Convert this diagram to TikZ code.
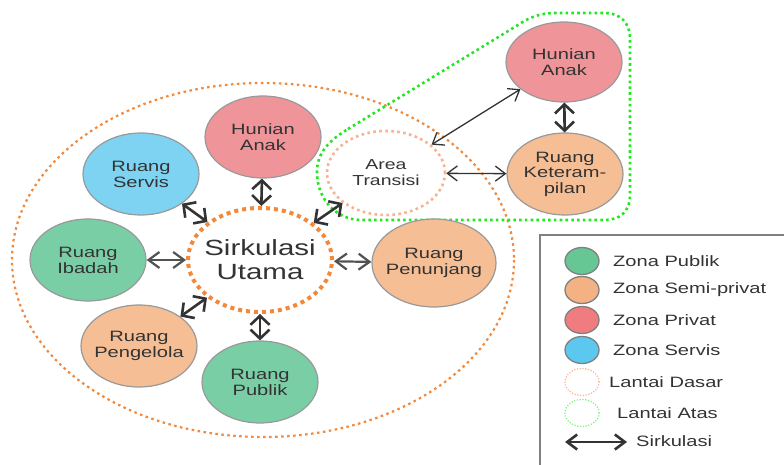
\documentclass[tikz,border=0pt]{standalone}
\usepackage{fontspec}
\setmainfont{Liberation Sans}[FakeStretch=1.34]
\usetikzlibrary{shapes.geometric,arrows.meta}
\definecolor{cpub}{HTML}{7ACEA5}
\definecolor{csemi}{HTML}{F5BE94}
\definecolor{cpriv}{HTML}{EF9599}
\definecolor{cserv}{HTML}{7DD3F1}
\definecolor{lpub}{HTML}{66C795}
\definecolor{lsemi}{HTML}{F4B183}
\definecolor{lpriv}{HTML}{F07C80}
\definecolor{lserv}{HTML}{5CC8F0}
\definecolor{corange}{HTML}{F2883A}
\definecolor{csalmon}{HTML}{F8B290}
\definecolor{cgreen}{HTML}{1EE81E}
\definecolor{ctext}{HTML}{333333}
\definecolor{carrow}{HTML}{333333}
\tikzset{
  room/.style={ellipse, draw=gray!80, line width=1.2pt, minimum width=116pt, minimum height=82pt, inner xsep=-20pt, inner ysep=0pt, align=center, text=ctext, font=\fontsize{15}{16}\selectfont},
  biga/.style={draw=carrow, line width=2.6pt, {Straight Barb[length=9pt,width=19pt]}-{Straight Barb[length=9pt,width=19pt]}},
  meda/.style={draw=carrow!85, line width=2.2pt, {Straight Barb[length=11pt,width=16pt]}-{Straight Barb[length=11pt,width=16pt]}},
  thina/.style={draw=carrow, line width=1.3pt, {Straight Barb[length=10pt,width=15pt]}-{Straight Barb[length=10pt,width=15pt]}},
  legc/.style={ellipse, draw=gray, line width=1.3pt, minimum width=34pt, minimum height=27pt, inner sep=0pt},
  legt/.style={anchor=west, text=ctext, font=\fontsize{15}{17}\selectfont, inner sep=0pt},
}
\begin{document}
\begin{tikzpicture}[x=1pt,y=-1pt]
\useasboundingbox (0,0) rectangle (784,465);
% outer ground floor ellipse
\draw[corange, line width=2.2pt, dash pattern=on 2.5pt off 3.5pt] (263,260) ellipse [x radius=251, y radius=177];
% upper floor outline
\draw[cgreen, line width=2.6pt, dash pattern=on 2.6pt off 3.2pt]
  (348,129) -- (518,25) .. controls (530,17) and (540,13) .. (556,13) -- (605,13)
  .. controls (620,13) and (630,23) .. (630,38) -- (630,196)
  .. controls (630,211) and (620,220) .. (605,220) -- (362,220)
  .. controls (335,220) and (317,198) .. (317,172)
  .. controls (317,152) and (330,140) .. (348,129) -- cycle;
% nodes
\node[ellipse, draw=corange, line width=4pt, dash pattern=on 4pt off 4pt, minimum width=144pt, minimum height=104pt, inner xsep=-30pt, inner ysep=0pt, align=center, text=ctext, font=\fontsize{22}{24}\selectfont] (sirk) at (260,260) {Sirkulasi\\Utama};
\node[ellipse, draw=csalmon, line width=2.6pt, dash pattern=on 2.6pt off 3.4pt, minimum width=118pt, minimum height=84pt, inner sep=0pt, align=center, text=ctext, font=\fontsize{14.5}{16}\selectfont] (trans) at (386,173) {Area\\Transisi};
\node[room, fill=cpriv] (hunl) at (263,137) {Hunian\\Anak};
\node[room, fill=cserv] (servis) at (141,174) {Ruang\\Servis};
\node[room, fill=cpub] (ibadah) at (88,260) {Ruang\\Ibadah};
\node[room, fill=csemi] (pengelola) at (139,346) {Ruang\\Pengelola};
\node[room, fill=cpub] (publik) at (260,382) {Ruang\\Publik};
\node[room, fill=csemi, minimum width=124pt, minimum height=88pt] (penunjang) at (434,263) {Ruang\\Penunjang};
\node[room, fill=cpriv, minimum height=80pt] (hunr) at (564,62) {Hunian\\Anak};
\node[room, fill=csemi, font=\fontsize{15}{15.5}\selectfont] (ket) at (565,174) {Ruang\\Keteram-\\pilan};
% connectors
\draw[biga] (hunl) -- (sirk);
\draw[biga] (servis) -- (sirk);
\draw[biga] (sirk) -- (trans);
\draw[meda] (ibadah) -- (sirk);
\draw[meda] (sirk) -- (penunjang);
\draw[biga] (pengelola) -- (sirk);
\draw[biga] (sirk) -- (publik);
\draw[thina] (trans) -- (hunr);
\draw[thina] (trans) -- (ket);
\draw[biga] (hunr) -- (ket);
% legend
\draw[gray, line width=1.5pt] (540,480) -- (540,235) -- (800,235);
\node[legc, fill=lpub] (l1) at (582,261) {};
\node[legc, fill=lsemi] (l2) at (582,290) {};
\node[legc, fill=lpriv] (l3) at (582,320) {};
\node[legc, fill=lserv] (l4) at (582,350) {};
\node[legc, draw=csalmon, line width=1.2pt, dash pattern=on 1.2pt off 1.6pt] (l5) at (582,382) {};
\node[legc, draw=cgreen!60, line width=1.2pt, dash pattern=on 1.2pt off 1.6pt] (l6) at (582,413) {};
\node[legt] (t1) at (613,261) {Zona Publik};
\node[legt] (t2) at (613,290) {Zona Semi-privat};
\node[legt] (t3) at (613,320) {Zona Privat};
\node[legt] (t4) at (613,350) {Zona Servis};
\node[legt] (t5) at (609,382) {Lantai Dasar};
\node[legt] (t6) at (617,413) {Lantai Atas};
\coordinate (la1) at (565,442);
\coordinate (la2) at (627,442);
\draw[draw=carrow, line width=2.6pt, {Straight Barb[length=10pt,width=15pt]}-{Straight Barb[length=10pt,width=15pt]}] (la1) -- (la2);
\node[legt] (t7) at (636,441) {Sirkulasi};
\end{tikzpicture}
\end{document}
